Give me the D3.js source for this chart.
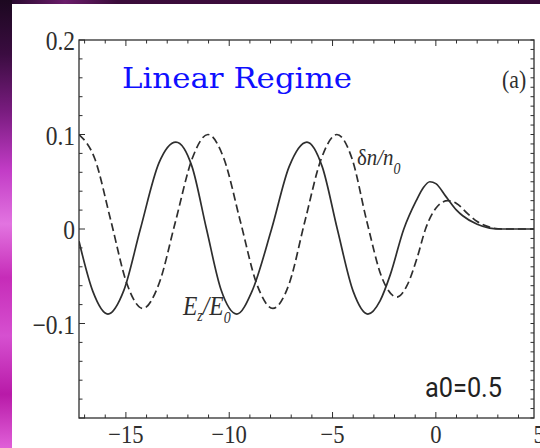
<!DOCTYPE html>
<html>
<head>
<meta charset="utf-8">
<style>
  body { margin: 0; background: #2a0a2e; }
  svg { display: block; }
</style>
</head>
<body>
<script src="https://d3js.org/d3.v7.min.js"></script>
<script>

// tick labels
var xTicks = [-15, -10, -5, 0, 5];
var xTickLabels = ['\u221215', '\u221210', '\u22125', '0', '5'];
var yTicks = [0.2, 0.1, 0, -0.1];
var yTickLabels = ['0.2', '0.1', '0', '\u22120.1'];

// E_z/E_0 (solid)
var ezX = [-17.27, -16.6, -15.87, -15.1, -14.3, -13.4, -12.58, -11.8, -11.1, -10.4, -9.63, -8.9, -7.95, -7.1, -6.24, -5.5, -4.77, -4.0, -3.29, -2.7, -2.2, -1.55, -0.95, -0.6, -0.29, 0.0, 0.5, 1.0, 1.3, 2.0, 2.6, 3.2, 4.75];
var ezY = [-0.013, -0.066, -0.090, -0.065, 0.0, 0.070, 0.092, 0.066, 0.0, -0.064, -0.090, -0.066, 0.0, 0.066, 0.092, 0.066, 0.0, -0.066, -0.090, -0.076, -0.048, 0.0, 0.030, 0.044, 0.050, 0.048, 0.034, 0.020, 0.014, 0.005, 0.001, 0.0, 0.0];

// δn/n_0 (dashed)
var dnX = [-17.27, -16.5, -15.72, -14.95, -14.18, -13.4, -12.6, -11.8, -11.03, -10.25, -9.46, -8.67, -7.89, -7.1, -6.34, -5.55, -4.79, -4.05, -3.34, -2.6, -1.89, -1.4, -0.9, -0.5, 0.0, 0.58, 1.0, 1.55, 2.0, 2.6, 3.2, 4.75];
var dnY = [0.100, 0.074, 0.008, -0.058, -0.084, -0.058, 0.008, 0.074, 0.100, 0.074, 0.008, -0.058, -0.084, -0.058, 0.008, 0.074, 0.100, 0.074, 0.008, -0.052, -0.072, -0.060, -0.030, 0.0, 0.022, 0.030, 0.027, 0.016, 0.008, 0.002, 0.0, 0.0];

var W = 540, H = 448;
var svg = d3.select('body').append('svg')
  .attr('width', W)
  .attr('height', H);

// background photo strip (left + top)
var defs = svg.append('defs');
var lg = defs.append('linearGradient').attr('id', 'bgl')
  .attr('x1', 0).attr('y1', 0).attr('x2', 0).attr('y2', 1);
[[0, '#1c0820'], [0.12, '#3a0c40'], [0.25, '#7a1c80'], [0.38, '#c23cc6'],
 [0.5, '#e274e0'], [0.62, '#c62cb8'], [0.75, '#d650d0'], [0.88, '#b81aa8'], [1, '#e060d8']]
  .forEach(function(s) { lg.append('stop').attr('offset', s[0]).attr('stop-color', s[1]); });
var tg = defs.append('linearGradient').attr('id', 'bgt');
[[0, '#2a0a30'], [0.1, '#6a1c6a'], [0.2, '#3a0c3a'], [0.5, '#3c0c3c'], [1, '#360a38']]
  .forEach(function(s) { tg.append('stop').attr('offset', s[0]).attr('stop-color', s[1]); });

svg.append('rect').attr('width', W).attr('height', H).attr('fill', 'url(#bgl)');
svg.append('rect').attr('x', 12).attr('width', W - 12).attr('height', 4).attr('fill', 'url(#bgt)');
svg.append('rect').attr('x', 12).attr('y', 4).attr('width', W - 12).attr('height', H - 4).attr('fill', '#fff');

var plot = { left: 79, right: 534, top: 40, bottom: 418 };

var xScale = d3.scaleLinear().domain([-17.27, 4.75]).range([plot.left, plot.right]);
var yScale = d3.scaleLinear().domain([-0.2, 0.2]).range([plot.bottom, plot.top]);

var ink = '#2e2e2e';
var serif = '"Liberation Serif", "Times New Roman", serif';
var squeeze = 'scale(0.87,1)';

svg.append('clipPath').attr('id', 'clip')
  .append('rect')
  .attr('x', plot.left).attr('y', plot.top)
  .attr('width', plot.right - plot.left).attr('height', plot.bottom - plot.top);

// curves
var line = d3.line()
  .x(function(d) { return xScale(d[0]); })
  .y(function(d) { return yScale(d[1]); })
  .curve(d3.curveMonotoneX);

var ez = d3.zip(ezX, ezY);
var dn = d3.zip(dnX, dnY);

var curves = svg.append('g').attr('clip-path', 'url(#clip)');
curves.append('path')
  .attr('d', line(dn))
  .attr('fill', 'none')
  .attr('stroke', ink)
  .attr('stroke-width', 1.7)
  .attr('stroke-dasharray', '8,4');
curves.append('path')
  .attr('d', line(ez))
  .attr('fill', 'none')
  .attr('stroke', ink)
  .attr('stroke-width', 1.7);

// frame
svg.append('rect')
  .attr('x', plot.left).attr('y', plot.top)
  .attr('width', plot.right - plot.left).attr('height', plot.bottom - plot.top)
  .attr('fill', 'none')
  .attr('stroke', ink)
  .attr('stroke-width', 1.3);

// ticks (inward)
var xMinor = d3.range(-17, 5, 1);
var yMinorL = d3.range(-0.2, 0.2001, 0.02);
var yMinorR = d3.range(-0.2, 0.2001, 0.01);

var ticks = svg.append('g').attr('stroke', ink).attr('stroke-width', 1);
xMinor.forEach(function(v) {
  var len = (v % 5 === 0) ? 6 : 3.5;
  var x = xScale(v);
  ticks.append('line').attr('x1', x).attr('x2', x).attr('y1', plot.bottom).attr('y2', plot.bottom - len);
  ticks.append('line').attr('x1', x).attr('x2', x).attr('y1', plot.top).attr('y2', plot.top + len);
});
yMinorL.forEach(function(v) {
  var major = Math.abs(Math.round(v * 10) - v * 10) < 1e-6;
  var y = yScale(v);
  ticks.append('line').attr('x1', plot.left).attr('x2', plot.left + (major ? 6 : 3.5)).attr('y1', y).attr('y2', y);
});
yMinorR.forEach(function(v) {
  var y = yScale(v);
  ticks.append('line').attr('x1', plot.right).attr('x2', plot.right - 3.5).attr('y1', y).attr('y2', y);
});

// tick labels
svg.append('g').selectAll('text')
  .data(xTicks)
  .join('text')
  .attr('transform', function(d) { return 'translate(' + xScale(d) + ',' + (plot.bottom + 25) + ') ' + squeeze; })
  .attr('text-anchor', 'middle')
  .attr('font-family', serif)
  .attr('font-size', 26)
  .attr('fill', ink)
  .text(function(d, i) { return xTickLabels[i]; });

svg.append('g').selectAll('text')
  .data(yTicks)
  .join('text')
  .attr('transform', function(d) { return 'translate(' + (plot.left - 4) + ',' + (yScale(d) + 10) + ') ' + squeeze; })
  .attr('text-anchor', 'end')
  .attr('font-family', serif)
  .attr('font-size', 27)
  .attr('fill', ink)
  .text(function(d, i) { return yTickLabels[i]; });

// annotations
svg.append('text')
  .attr('x', 122).attr('y', 88)
  .attr('font-family', '"DejaVu Serif", serif')
  .attr('font-size', 28)
  .attr('fill', '#0f0fff')
  .attr('textLength', 230)
  .attr('lengthAdjust', 'spacingAndGlyphs')
  .text('Linear Regime');

svg.append('text')
  .attr('transform', 'translate(502,88) ' + squeeze)
  .attr('font-family', serif)
  .attr('font-size', 25)
  .attr('fill', ink)
  .text('(a)');

svg.append('text')
  .attr('x', 425).attr('y', 397)
  .attr('font-family', 'Roboto, sans-serif')
  .attr('font-size', 27)
  .attr('fill', '#222')
  .attr('textLength', 77)
  .attr('lengthAdjust', 'spacingAndGlyphs')
  .text('a0=0.5');

var ezLabel = svg.append('text')
  .attr('transform', 'translate(183,315) ' + squeeze)
  .attr('font-family', serif)
  .attr('font-style', 'italic')
  .attr('font-size', 27)
  .attr('fill', ink);
ezLabel.append('tspan').text('E');
ezLabel.append('tspan').attr('font-size', 16).attr('dy', 6).text('z');
ezLabel.append('tspan').attr('dy', -6).text('/E');
ezLabel.append('tspan').attr('font-size', 16).attr('dy', 8).text('0');

var dnLabel = svg.append('text')
  .attr('transform', 'translate(357,165) ' + squeeze)
  .attr('font-family', serif)
  .attr('font-size', 24)
  .attr('fill', ink);
dnLabel.append('tspan').text('\u03b4');
dnLabel.append('tspan').attr('font-style', 'italic').text('n/n');
dnLabel.append('tspan').attr('font-style', 'italic').attr('font-size', 16).attr('dy', 9).text('0');

</script>
</body>
</html>
